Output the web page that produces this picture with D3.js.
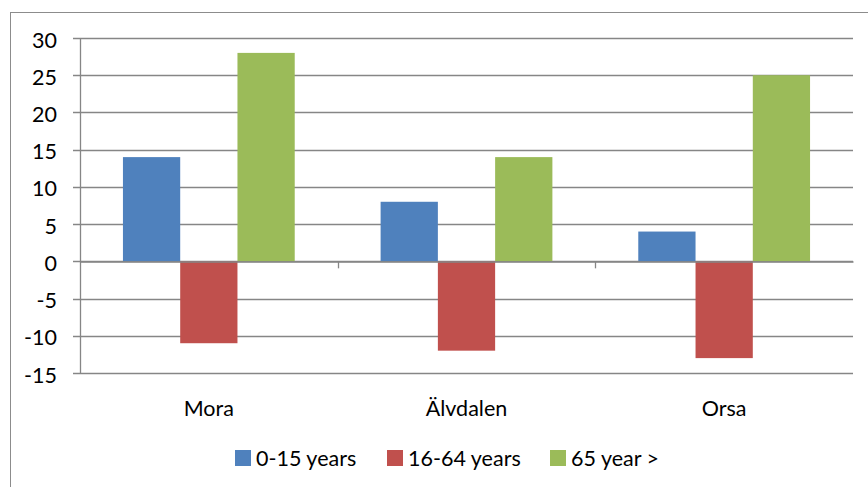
<!DOCTYPE html>
<html><head><meta charset="utf-8">
<script src="https://cdn.jsdelivr.net/npm/d3@7"></script>
<style>body{margin:0;background:#fff}svg{display:block}text{font-family:Lato,"Open Sans",sans-serif;fill:#000}</style>
</head><body><svg id="c" width="868" height="487"></svg>
<script>
const categories = ["Mora", "Älvdalen", "Orsa"];
const seriesNames = ["0-15 years", "16-64 years", "65 year >"];
const seriesColors = ["#4F81BD", "#C0504D", "#9BBB59"];
const young = [14, 8, 4];
const working = [-11, -12, -13];
const old = [28, 14, 25];
const yTicks = [-15, -10, -5, 0, 5, 10, 15, 20, 25, 30];

const series = [young, working, old];
const svg = d3.select("#c");
const L = 80, R = 853, T = 38, B = 373;
const FS = 21.5;

svg.append("rect").attr("x", 10.5).attr("y", 12.5).attr("width", 900).attr("height", 520)
  .attr("fill", "none").attr("stroke", "#8c8c8c").attr("stroke-width", 1);

const x = d3.scaleBand().domain(categories).range([L, R]);
const bw = x.bandwidth() / 4.5;
const xs = d3.scaleBand().domain(d3.range(3)).range([0, bw * 3]);
const y = d3.scaleLinear().domain([-15, 30]).range([B, T]);

// gridlines
svg.append("g").selectAll("line").data(yTicks).join("line")
  .attr("x1", L - 7).attr("x2", R)
  .attr("y1", d => Math.round(y(d)) + 0.5).attr("y2", d => Math.round(y(d)) + 0.5)
  .attr("stroke", "#868686").attr("stroke-width", 1.3);

// y axis
const ya = svg.append("g").attr("transform", `translate(${L},0)`)
  .call(d3.axisLeft(y).tickValues(yTicks).tickSize(0).tickPadding(23).tickFormat(d => String(d)));
ya.select(".domain").attr("stroke", "#868686").attr("stroke-width", 1.3);
ya.selectAll("text").attr("font-size", FS).attr("dy", "0.42em").style("font-family", "Lato,'Open Sans',sans-serif");

// bars
categories.forEach((c, i) => {
  const g = svg.append("g").attr("transform", `translate(${x(c) + (x.bandwidth() - bw * 3) / 2},0)`);
  g.selectAll("rect").data(series.map((s, k) => ({k, v: s[i]}))).join("rect")
    .attr("x", d => xs(d.k)).attr("width", xs.bandwidth())
    .attr("y", d => y(Math.max(0, d.v))).attr("height", d => Math.abs(y(d.v) - y(0)))
    .attr("fill", d => seriesColors[d.k]);
});

// x axis at zero
const xa = svg.append("g").attr("transform", `translate(0,${Math.round(y(0)) + 0.5})`)
  .call(d3.axisBottom(x).tickSize(0).tickFormat(""));
xa.select(".domain").attr("stroke", "#868686").attr("stroke-width", 1.3);
const bounds = categories.map(c => x(c) + x.bandwidth());
svg.append("g").selectAll("line").data(bounds.slice(0, 2)).join("line")
  .attr("x1", d => Math.round(d) + 0.5).attr("x2", d => Math.round(d) + 0.5)
  .attr("y1", y(0)).attr("y2", y(0) + 7).attr("stroke", "#868686").attr("stroke-width", 1.3);

// category labels
svg.append("g").selectAll("text").data(categories).join("text")
  .attr("x", d => x(d) + x.bandwidth() / 2).attr("y", 416)
  .attr("text-anchor", "middle").attr("font-size", FS).text(d => d);

// legend
const legX = [235, 387, 550];
const lg = svg.append("g");
seriesNames.forEach((n, k) => {
  lg.append("rect").attr("x", legX[k]).attr("y", 450).attr("width", 16).attr("height", 16).attr("fill", seriesColors[k]);
  lg.append("text").attr("x", legX[k] + 21).attr("y", 466).attr("font-size", FS).text(n);
});
</script></body></html>
